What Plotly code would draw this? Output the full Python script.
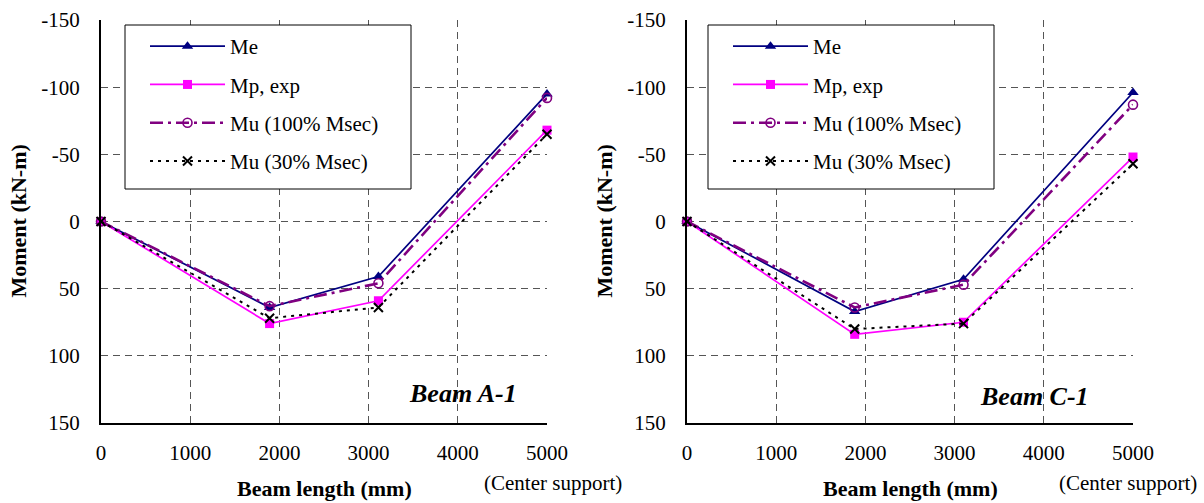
import plotly.graph_objects as go

# ---------------- data ----------------
x_a = [0, 1890, 3110, 5000]
me_a = [0, 64, 41, -95]
mp_a = [0, 76, 59, -68]
mu100_a = [0, 63, 46, -92]
mu30_a = [0, 72, 64, -65]

x_c = [0, 1880, 3100, 5000]
me_c = [0, 67, 43, -96]
mp_c = [0, 84, 75, -48]
mu100_c = [0, 64, 47, -87]
mu30_c = [0, 80, 76, -43]

series_names = ["Me", "Mp, exp", "Mu (100% Msec)", "Mu (30% Msec)"]
x_ticks = [0, 1000, 2000, 3000, 4000, 5000]
x_tick_labels = ["0", "1000", "2000", "3000", "4000", "5000"]
y_ticks = [-150, -100, -50, 0, 50, 100, 150]
y_tick_labels = ["-150", "-100", "-50", "0", "50", "100", "150"]
panel_labels = ["Beam A-1", "Beam C-1"]

# ---------------- layout helpers ----------------
W, H = 1204, 503
T, B = 20, 80
PH = H - T - B


def px(xp):
    return xp / W


def py(yp):
    return 1 - (yp - T) / PH


FONT = "Liberation Serif"

styles = [
    dict(line=dict(color="#000080", width=1.7),
         marker=dict(symbol="triangle-up", size=10, color="#000080")),
    dict(line=dict(color="#FF00FF", width=1.7),
         marker=dict(symbol="square", size=9, color="#FF00FF")),
    dict(line=dict(color="#800080", width=2.6, dash="13px,5px,3px,5px"),
         marker=dict(symbol="circle-open", size=9, color="#800080",
                     line=dict(width=1.6, color="#800080"))),
    dict(line=dict(color="#000000", width=2.0, dash="3px,5px"),
         marker=dict(symbol="x-thin-open", size=9, color="#000000",
                     line=dict(width=2, color="#000000"))),
]

fig = go.Figure()

panels = [
    (x_a, [me_a, mp_a, mu100_a, mu30_a], "x", "y", "legend"),
    (x_c, [me_c, mp_c, mu100_c, mu30_c], "x2", "y2", "legend2"),
]

for xs, ys_list, xa, ya, lg in panels:
    for i, (name, ys) in enumerate(zip(series_names, ys_list)):
        st = styles[i]
        fig.add_trace(go.Scatter(
            x=xs, y=ys, name=name, mode="lines+markers",
            line=st["line"], marker=st["marker"],
            xaxis=xa, yaxis=ya, legend=lg,
            legendgroup=f"{lg}_{i}", cliponaxis=False,
        ))

axis_common = dict(
    showgrid=True, gridcolor="#555555", gridwidth=1, griddash="7px,5px",
    zeroline=False, showline=True, linecolor="black", linewidth=2,
    ticks="", automargin=False,
    tickfont=dict(family=FONT, size=21, color="black"),
)

dom_left = [px(101), px(547)]
dom_right = [px(687), px(1133)]

xa_common = dict(range=[0, 5000], tickvals=x_ticks, ticktext=x_tick_labels,
                 ticklabelstandoff=10, **axis_common)
ya_common = dict(domain=[0, 1], range=[150, -150], tickvals=y_ticks,
                 ticktext=y_tick_labels, ticklabelstandoff=15, **axis_common)

legend_common = dict(yanchor="top", xanchor="left",
                     bgcolor="rgba(0,0,0,0)", borderwidth=0,
                     font=dict(family=FONT, size=21, color="black"),
                     itemwidth=75, tracegroupgap=8, traceorder="grouped")

fig.update_layout(
    width=W, height=H,
    margin=dict(l=0, r=0, t=T, b=B, autoexpand=False),
    plot_bgcolor="white", paper_bgcolor="white",
    showlegend=True,
    xaxis=dict(domain=dom_left, anchor="y", **xa_common),
    yaxis=dict(anchor="x", **ya_common),
    xaxis2=dict(domain=dom_right, anchor="y2", **xa_common),
    yaxis2=dict(anchor="x2", **ya_common),
    legend=dict(x=px(145), y=py(26), **legend_common),
    legend2=dict(x=px(728), y=py(26), **legend_common),
)

# legend boxes
for x0 in (125, 708):
    fig.add_shape(type="rect", xref="paper", yref="paper",
                  x0=px(x0), x1=px(x0 + 286), y0=py(189), y1=py(25),
                  line=dict(color="black", width=1), fillcolor="white",
                  layer="above")


def note(text, xc, yc, size, angle=0):
    return dict(text=text, x=px(xc), y=py(yc), xref="paper", yref="paper",
                xanchor="center", yanchor="middle", showarrow=False,
                textangle=angle, font=dict(family=FONT, size=size, color="black"))


ann = []
for xc in (18, 604):
    ann.append(note("<b>Moment (kN-m)</b>", xc, 221.5, 22, -90))
for xc in (324, 910):
    ann.append(note("<b>Beam length (mm)</b>", xc, 488, 22))
for xc in (553, 1128):
    ann.append(note("(Center support)", xc, 483, 21))
for (xc, yc), lab in zip([(463, 393), (1034, 396)], panel_labels):
    ann.append(note(f"<b><i>{lab}</i></b>", xc, yc, 26))
fig.update_layout(annotations=ann)

fig.write_html(
    "out.html",
    config={"displayModeBar": False},
    post_script="document.body.style.margin='0';document.body.style.padding='0';",
)
